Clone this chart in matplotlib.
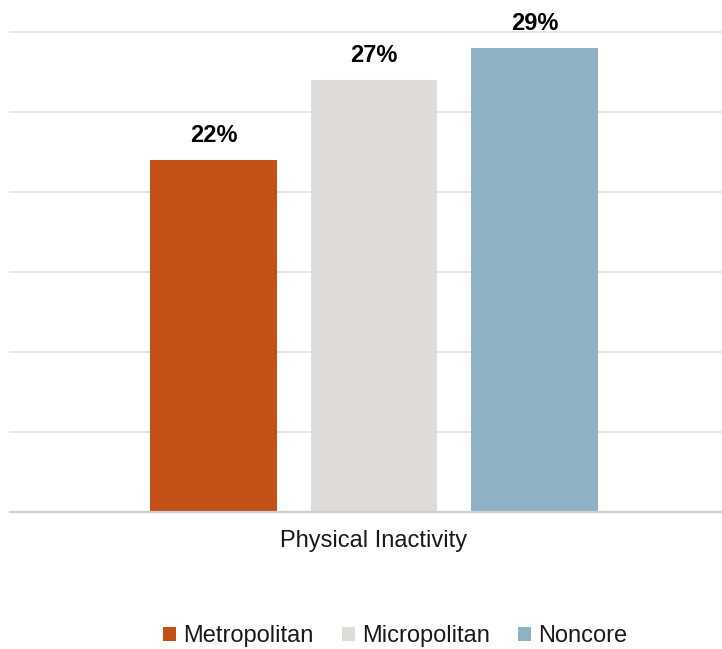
import matplotlib
matplotlib.use("Agg")
import matplotlib.pyplot as plt
import numpy as np

plt.rcParams['font.family'] = ['Liberation Sans', 'DejaVu Sans']

series = ['Metropolitan', 'Micropolitan', 'Noncore']
values = [22, 27, 29]
labels = ['22%', '27%', '29%']
category = 'Physical Inactivity'
colors = ['#C35015', '#DEDBD9', '#8EB1C4']

fig = plt.figure(figsize=(7.22, 6.49), dpi=100)
ax = fig.add_axes([10 / 722, 137 / 649, 712 / 722, 480 / 649])

x = np.arange(len(series))
bars = ax.bar(x, values, width=0.79, color=colors, zorder=3, label=series)
for b, lab in zip(bars, labels):
    ax.text(b.get_x() + b.get_width() / 2, b.get_height() + 0.8, lab,
            ha='center', va='bottom', fontsize=17, fontweight='bold', color='black', zorder=4)

ax.set_ylim(0, 30)
ax.set_xlim(-1.268, 3.168)
ax.set_yticks(np.arange(0, 31, 5))
ax.yaxis.grid(True, color='#E3E3E3', linewidth=1.3, zorder=0)
for gl in ax.get_ygridlines():
    gl.set_clip_on(False)
ax.tick_params(left=False, bottom=False, labelleft=False, labelbottom=False)
for s in ['top', 'right', 'left']:
    ax.spines[s].set_visible(False)
ax.spines['bottom'].set_color('#D0CECE')
ax.spines['bottom'].set_linewidth(1.6)
ax.spines['bottom'].set_zorder(5)

fig.text(374 / 722, 1 - 541 / 649, category, ha='center', va='center', fontsize=17, color='#1A1A1A')

fig.legend(handles=bars, labels=series, loc='center', bbox_to_anchor=(395 / 722, 1 - 636 / 649),
           ncol=3, frameon=False, fontsize=17, handlelength=0.55, handleheight=0.55,
           handletextpad=0.3, columnspacing=1.2, labelcolor='#1A1A1A')

fig.savefig('out.png', dpi=100)
